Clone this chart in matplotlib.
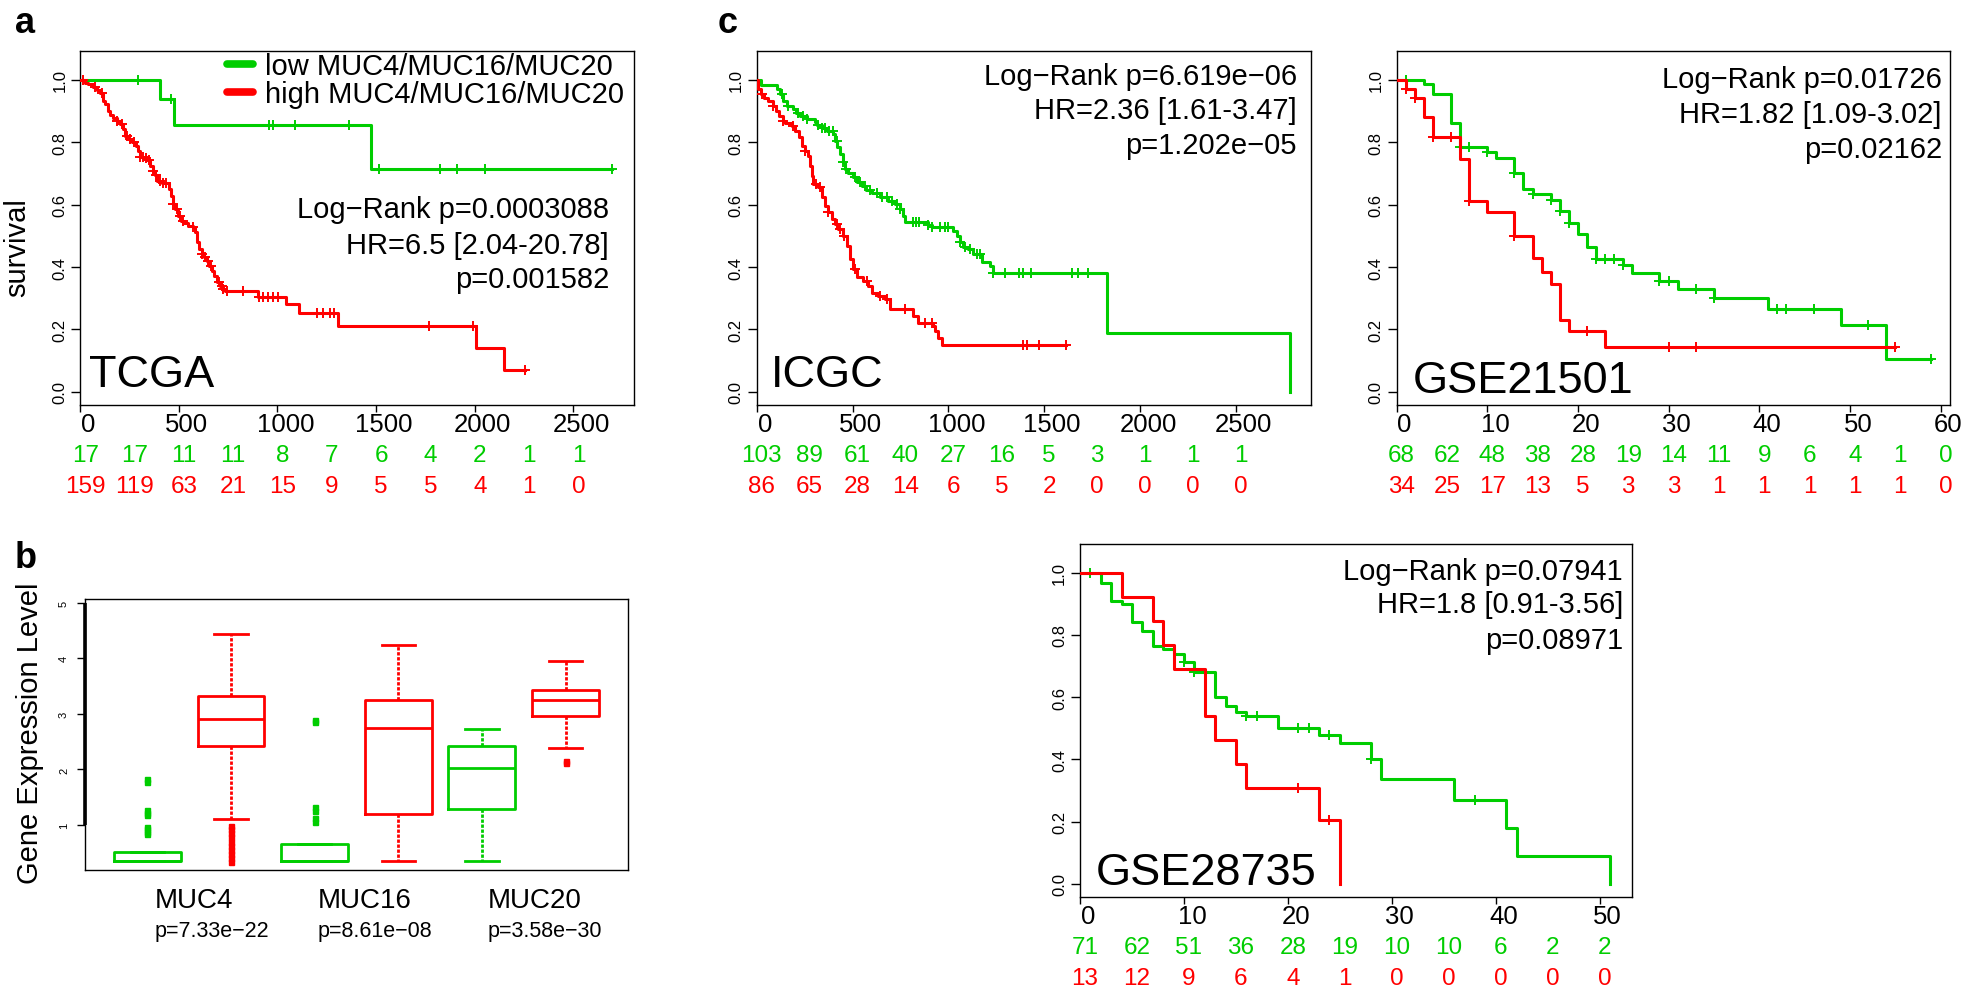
import numpy as np
import matplotlib
matplotlib.use("Agg")
import matplotlib.pyplot as plt
from matplotlib import transforms
from matplotlib.lines import Line2D

plt.rcParams['font.family'] = ['Liberation Sans', 'DejaVu Sans']

GREEN = '#00CD00'
RED = '#FF0000'
MINUS = '\u2212'

# ---------------- data: Kaplan-Meier curves (time of step, survival after step) ----------------
# TCGA (days)
tcga_hi_t = [24, 42, 67, 83, 100, 114, 126, 143, 151, 165, 185, 202, 219, 227, 244, 261, 283, 295,
             303, 320, 340, 354, 367, 379, 388, 413, 452, 459, 469, 480, 497, 509, 526, 548, 570,
             582, 590, 604, 616, 627, 641, 654, 666, 678, 692, 709, 722, 734, 903, 1044, 1110,
             1308, 2005, 2147]
tcga_hi_s = [0.99, 0.986, 0.976, 0.968, 0.957, 0.933, 0.922, 0.90, 0.887, 0.876, 0.868, 0.858,
             0.842, 0.82, 0.81, 0.80, 0.789, 0.772, 0.754, 0.748, 0.744, 0.724, 0.708, 0.695,
             0.676, 0.669, 0.65, 0.628, 0.602, 0.586, 0.564, 0.548, 0.541, 0.532, 0.527, 0.511,
             0.479, 0.457, 0.441, 0.431, 0.42, 0.404, 0.388, 0.37, 0.353, 0.34, 0.329, 0.322,
             0.305, 0.281, 0.254, 0.212, 0.142, 0.071]
tcga_hi_end = 2257
tcga_hi_cens = [12, 75, 109, 185, 210, 235, 252, 273, 303, 317, 333, 350, 367, 384, 404, 421, 435,
                472, 489, 506, 523, 573, 616, 633, 649, 661, 705, 717, 725, 742, 827, 908, 928,
                953, 979, 1004, 1198, 1231, 1264, 1286, 1769, 1989, 2257]
tcga_lo_t = [407, 477, 1473]
tcga_lo_s = [0.938, 0.856, 0.713]
tcga_lo_end = 2697
tcga_lo_cens = [291, 458, 956, 978, 1088, 1363, 1517, 1825, 1912, 2051, 2697]

# ICGC (days)
icgc_hi_t = [8, 21, 38, 61, 87, 101, 118, 136, 147, 183, 200, 222, 235, 252, 269, 278, 287, 295,
             321, 339, 356, 374, 391, 408, 426, 452, 470, 487, 504, 522, 556, 582, 600, 634, 669,
             695, 817, 843, 918, 930, 947, 965]
icgc_hi_s = [0.970, 0.954, 0.940, 0.933, 0.917, 0.90, 0.885, 0.869, 0.861, 0.851, 0.837, 0.815,
             0.789, 0.772, 0.756, 0.724, 0.692, 0.666, 0.655, 0.623, 0.596, 0.575, 0.553, 0.537,
             0.521, 0.50, 0.468, 0.425, 0.393, 0.367, 0.356, 0.34, 0.316, 0.308, 0.297, 0.265,
             0.244, 0.222, 0.212, 0.196, 0.174, 0.15]
icgc_hi_end = 1612
icgc_hi_cens = [26, 87, 139, 191, 252, 309, 330, 374, 417, 435, 455, 513, 574, 643, 678, 774, 878,
                913, 1389, 1410, 1474, 1612]
icgc_lo_t = [21, 104, 122, 139, 157, 191, 205, 226, 261, 304, 316, 339, 365, 400, 408, 421, 435,
             449, 461, 478, 504, 525, 548, 570, 600, 643, 687, 722, 748, 765, 774, 895, 913, 1026,
             1043, 1061, 1075, 1104, 1130, 1174, 1217, 1235, 1829, 2783]
icgc_lo_s = [0.983, 0.970, 0.954, 0.933, 0.915, 0.906, 0.893, 0.883, 0.874, 0.865, 0.855, 0.844,
             0.837, 0.826, 0.805, 0.783, 0.762, 0.735, 0.714, 0.701, 0.687, 0.673, 0.66, 0.647,
             0.637, 0.623, 0.612, 0.602, 0.586, 0.564, 0.545, 0.534, 0.527, 0.516, 0.50, 0.479,
             0.463, 0.457, 0.441, 0.417, 0.404, 0.38, 0.19, 0.0]
icgc_lo_end = 2783
icgc_lo_cens = [130, 165, 217, 243, 261, 322, 339, 356, 379, 396, 417, 452, 466, 513, 539, 565,
                591, 626, 652, 678, 704, 730, 748, 817, 831, 849, 895, 913, 956, 982, 1000, 1061,
                1087, 1113, 1148, 1165, 1235, 1293, 1367, 1389, 1431, 1644, 1676, 1729]

# GSE21501 (months)
g215_hi_t = [1, 2, 3, 4, 7, 8, 10, 13, 15, 16, 17, 18, 19, 23]
g215_hi_s = [0.97, 0.94, 0.88, 0.815, 0.745, 0.61, 0.575, 0.50, 0.43, 0.385, 0.345, 0.23, 0.195, 0.145]
g215_hi_end = 55
g215_hi_cens = [1, 2, 4, 6, 8, 13, 21, 30, 33, 55]
g215_lo_t = [3, 4, 6, 7, 10, 11, 13, 14, 15, 17, 18, 19, 20, 21, 22, 25, 26, 29, 31, 35, 41, 49, 54]
g215_lo_s = [0.985, 0.955, 0.86, 0.785, 0.77, 0.75, 0.70, 0.65, 0.635, 0.615, 0.58, 0.54, 0.505,
             0.465, 0.425, 0.405, 0.38, 0.355, 0.33, 0.30, 0.265, 0.215, 0.105]
g215_lo_end = 59
g215_lo_cens = [1, 7, 8, 10, 13, 15, 17, 18, 19, 22, 23, 24, 25, 29, 30, 33, 35, 42, 43, 46, 52, 59]

# GSE28735 (months)
g287_hi_t = [4, 7, 8, 9, 12, 13, 15, 16, 23, 25]
g287_hi_s = [0.923, 0.846, 0.769, 0.692, 0.538, 0.462, 0.385, 0.308, 0.205, 0.0]
g287_hi_end = 25
g287_hi_cens = [21, 24]
g287_lo_t = [2, 3, 4, 5, 6, 7, 8, 9, 10, 11, 13, 14, 15, 16, 19, 23, 25, 28, 29, 36, 41, 42, 51]
g287_lo_s = [0.968, 0.909, 0.899, 0.84, 0.813, 0.765, 0.754, 0.738, 0.712, 0.68, 0.60, 0.57, 0.552,
             0.541, 0.502, 0.48, 0.454, 0.402, 0.336, 0.269, 0.18, 0.091, 0.0]
g287_lo_end = 51
g287_lo_cens = [1, 10, 11, 16, 17, 21, 22, 24, 28, 38]

# numbers at risk
tcga_risk_t = [0, 250, 500, 750, 1000, 1250, 1500, 1750, 2000, 2250, 2500]
tcga_risk_lo = [17, 17, 11, 11, 8, 7, 6, 4, 2, 1, 1]
tcga_risk_hi = [159, 119, 63, 21, 15, 9, 5, 5, 4, 1, 0]
icgc_risk_t = [0, 250, 500, 750, 1000, 1250, 1500, 1750, 2000, 2250, 2500]
icgc_risk_lo = [103, 89, 61, 40, 27, 16, 5, 3, 1, 1, 1]
icgc_risk_hi = [86, 65, 28, 14, 6, 5, 2, 0, 0, 0, 0]
g215_risk_t = [0, 5, 10, 15, 20, 25, 30, 35, 40, 45, 50, 55, 60]
g215_risk_lo = [68, 62, 48, 38, 28, 19, 14, 11, 9, 6, 4, 1, 0]
g215_risk_hi = [34, 25, 17, 13, 5, 3, 3, 1, 1, 1, 1, 1, 0]
g287_risk_t = [0, 5, 10, 15, 20, 25, 30, 35, 40, 45, 50]
g287_risk_lo = [71, 62, 51, 36, 28, 19, 10, 10, 6, 2, 2]
g287_risk_hi = [13, 12, 9, 6, 4, 1, 0, 0, 0, 0, 0]

tcga_stats = ['Log' + MINUS + 'Rank p=0.0003088', 'HR=6.5 [2.04-20.78]', 'p=0.001582']
icgc_stats = ['Log' + MINUS + 'Rank p=6.619e' + MINUS + '06', 'HR=2.36 [1.61-3.47]', 'p=1.202e' + MINUS + '05']
g215_stats = ['Log' + MINUS + 'Rank p=0.01726', 'HR=1.82 [1.09-3.02]', 'p=0.02162']
g287_stats = ['Log' + MINUS + 'Rank p=0.07941', 'HR=1.8 [0.91-3.56]', 'p=0.08971']

# ---------------- data: boxplot (panel b) ----------------
genes = ['MUC4', 'MUC16', 'MUC20']
gene_p = ['p=7.33e' + MINUS + '22', 'p=8.61e' + MINUS + '08', 'p=3.58e' + MINUS + '30']
low_q1 = [0.35, 0.35, 1.29]
low_med = [0.35, 0.35, 2.02]
low_q3 = [0.52, 0.65, 2.43]
low_wlo = [0.35, 0.35, 0.36]
low_whi = [0.52, 0.65, 2.73]
low_fliers = [[0.83, 0.88, 0.93, 0.97, 1.18, 1.22, 1.27, 1.77, 1.83],
              [1.05, 1.12, 1.25, 1.33, 2.85, 2.9],
              []]
high_q1 = [2.42, 1.19, 2.96]
high_med = [2.91, 2.74, 3.25]
high_q3 = [3.33, 3.25, 3.44]
high_wlo = [1.10, 0.36, 2.39]
high_whi = [4.44, 4.24, 3.95]
high_fliers = [[0.33, 0.40, 0.48, 0.55, 0.63, 0.70, 0.78, 0.85, 0.92, 0.98],
               [],
               [2.11, 2.15]]

# ---------------- figure ----------------
W, H = 1961, 995
fig = plt.figure(figsize=(W / 100, H / 100), dpi=100)
fig.patch.set_facecolor('white')


def px_axes(left, top, right, bottom):
    return fig.add_axes([left / W, 1 - bottom / H, (right - left) / W, (bottom - top) / H])


def surv_at(t_steps, s_steps, t):
    idx = np.searchsorted(np.asarray(t_steps, float), t, side='right')
    return np.concatenate([[1.0], s_steps])[idx]


def km_line(ax, times, surv, end, cens, color):
    x = np.concatenate([[0], times, [end]])
    y = np.concatenate([[1.0], surv, [surv[-1]]])
    ax.plot(x, y, drawstyle='steps-post', color=color, lw=2.2, zorder=3)
    cens = np.asarray(cens, float)
    ax.plot(cens, surv_at(times, surv, cens), ls='none', marker='+', ms=7, mew=1.4,
            color=color, zorder=3)


def km_frame(ax, xmax, xticks, risk_t, risk_lo, risk_hi, stats, stats_x, stats_y, name, name_xy):
    ax.set_xlim(0, xmax)
    ax.set_ylim(-0.042, 1.092)
    for sp in ax.spines.values():
        sp.set_linewidth(1.0)
    ax.set_yticks([0, 0.2, 0.4, 0.6, 0.8, 1.0])
    ax.set_yticklabels(['0.0', '0.2', '0.4', '0.6', '0.8', '1.0'])
    ax.tick_params(axis='y', labelsize=12, length=6.3, width=1.0, pad=3, labelrotation=90)
    for lab in ax.get_yticklabels():
        lab.set_va('center')
    ax.set_xticks(xticks)
    ax.set_xticklabels([])
    ax.tick_params(axis='x', length=5, width=1.0)
    base = transforms.blended_transform_factory(ax.transData, ax.transAxes)
    tr_tick = transforms.offset_copy(base, fig=fig, x=8, y=-26, units='dots')
    tr_lo = transforms.offset_copy(base, fig=fig, x=5, y=-56, units='dots')
    tr_hi = transforms.offset_copy(base, fig=fig, x=5, y=-87, units='dots')
    for t in xticks:
        ax.text(t, 0, str(t), transform=tr_tick, ha='center', va='baseline', fontsize=18.5)
    for t, lo, hi in zip(risk_t, risk_lo, risk_hi):
        ax.text(t, 0, str(lo), transform=tr_lo, ha='center', va='baseline', fontsize=17.5, color=GREEN)
        ax.text(t, 0, str(hi), transform=tr_hi, ha='center', va='baseline', fontsize=17.5, color=RED)
    for line, y in zip(stats, stats_y):
        ax.text(stats_x, y, line, transform=ax.transAxes, ha='right', va='baseline', fontsize=21)
    ax.text(name_xy[0], name_xy[1], name, transform=ax.transAxes, ha='left', va='baseline', fontsize=32.5)


# panel a: TCGA
ax_a = px_axes(80.2, 52, 634, 406)
km_line(ax_a, tcga_lo_t, tcga_lo_s, tcga_lo_end, tcga_lo_cens, GREEN)
km_line(ax_a, tcga_hi_t, tcga_hi_s, tcga_hi_end, tcga_hi_cens, RED)
km_frame(ax_a, 2807, [0, 500, 1000, 1500, 2000, 2500], tcga_risk_t, tcga_risk_lo, tcga_risk_hi,
         tcga_stats, 0.955, [0.530, 0.429, 0.3325], 'TCGA', (0.016, 0.053))
handles = [Line2D([], [], color=GREEN, lw=5.5, solid_capstyle='round'),
           Line2D([], [], color=RED, lw=5.5, solid_capstyle='round')]
ax_a.legend(handles, ['low MUC4/MUC16/MUC20', 'high MUC4/MUC16/MUC20'], loc='upper left',
            bbox_to_anchor=(0.262, 1.0), frameon=False, fontsize=21, handlelength=0.9,
            handletextpad=0.4, labelspacing=0.0, borderpad=0.05, borderaxespad=0)

# panel c: ICGC
ax_c1 = px_axes(756.7, 52, 1310.6, 406)
km_line(ax_c1, icgc_lo_t, icgc_lo_s, icgc_lo_end, icgc_lo_cens, GREEN)
km_line(ax_c1, icgc_hi_t, icgc_hi_s, icgc_hi_end, icgc_hi_cens, RED)
km_frame(ax_c1, 2890, [0, 500, 1000, 1500, 2000, 2500], icgc_risk_t, icgc_risk_lo, icgc_risk_hi,
         icgc_stats, 0.9755, [0.907, 0.8107, 0.7119], 'ICGC', (0.025, 0.053))

# panel c: GSE21501
ax_c2 = px_axes(1396.5, 52, 1949.6, 406)
km_line(ax_c2, g215_lo_t, g215_lo_s, g215_lo_end, g215_lo_cens, GREEN)
km_line(ax_c2, g215_hi_t, g215_hi_s, g215_hi_end, g215_hi_cens, RED)
km_frame(ax_c2, 61.0, [0, 10, 20, 30, 40, 50, 60], g215_risk_t, g215_risk_lo, g215_risk_hi,
         g215_stats, 0.986, [0.8974, 0.7986, 0.6997], 'GSE21501', (0.030, 0.0376))

# panel c: GSE28735
ax_c3 = px_axes(1080, 545, 1632, 898)
km_line(ax_c3, g287_lo_t, g287_lo_s, g287_lo_end, g287_lo_cens, GREEN)
km_line(ax_c3, g287_hi_t, g287_hi_s, g287_hi_end, g287_hi_cens, RED)
km_frame(ax_c3, 53.1, [0, 10, 20, 30, 40, 50], g287_risk_t, g287_risk_lo, g287_risk_hi,
         g287_stats, 0.9837, [0.9008, 0.8065, 0.7045], 'GSE28735', (0.028, 0.037))

# panel b: boxplot
ax_b = px_axes(85.4, 600, 627.5, 871)
ax_b.set_xlim(0.26, 6.74)
ax_b.set_ylim(0.19, 5.07)
for sp in ax_b.spines.values():
    sp.set_linewidth(1.0)


def box_stats(q1, med, q3, wlo, whi, fl):
    return [dict(q1=a, med=b, q3=c, whislo=d, whishi=e, fliers=f)
            for a, b, c, d, e, f in zip(q1, med, q3, wlo, whi, fl)]


for stats, pos, col in [(box_stats(low_q1, low_med, low_q3, low_wlo, low_whi, low_fliers), [1, 3, 5], GREEN),
                        (box_stats(high_q1, high_med, high_q3, high_wlo, high_whi, high_fliers), [2, 4, 6], RED)]:
    ax_b.bxp(stats, positions=pos, widths=0.8, capwidths=0.4, manage_ticks=False,
             boxprops=dict(color=col, lw=2.0),
             medianprops=dict(color=col, lw=2.0),
             whiskerprops=dict(color=col, lw=2.0, linestyle=(0, (1.2, 0.6))),
             capprops=dict(color=col, lw=2.0),
             flierprops=dict(marker='s', markerfacecolor=col, markeredgecolor=col, markersize=3.6))

ax_b.set_xticks([])
ax_b.set_yticks([1, 2, 3, 4, 5])
ax_b.set_yticklabels(['1', '2', '3', '4', '5'])
ax_b.tick_params(axis='y', labelsize=8, length=5.8, width=1.0, pad=6, labelrotation=90)
for lab in ax_b.get_yticklabels():
    lab.set_va('center')
ax_b.vlines(ax_b.get_xlim()[0], 1, 5, color='black', lw=2.6, clip_on=False, zorder=5)

tr_b = transforms.blended_transform_factory(ax_b.transData, ax_b.transAxes)
for i, (g, p) in enumerate(zip(genes, gene_p)):
    x0 = [1.09, 3.04, 5.07][i]
    ax_b.text(x0, -0.1376, g, transform=tr_b, ha='left', va='baseline', fontsize=20)
    ax_b.text(x0, -0.2424, p, transform=tr_b, ha='left', va='baseline', fontsize=15.5)

# axis titles and panel letters
fig.text(17 / W, 1 - 248 / H, 'survival', rotation=90, ha='center', va='center', fontsize=21)
fig.text(30 / W, 1 - 733 / H, 'Gene Expression Level', rotation=90, ha='center', va='center', fontsize=21)
fig.text(15 / W, 1 - 33 / H, 'a', fontsize=26, fontweight='bold', ha='left', va='baseline')
fig.text(15 / W, 1 - 568 / H, 'b', fontsize=26, fontweight='bold', ha='left', va='baseline')
fig.text(717.5 / W, 1 - 33.3 / H, 'c', fontsize=26, fontweight='bold', ha='left', va='baseline')

fig.savefig('out.png', dpi=100, facecolor='white')
